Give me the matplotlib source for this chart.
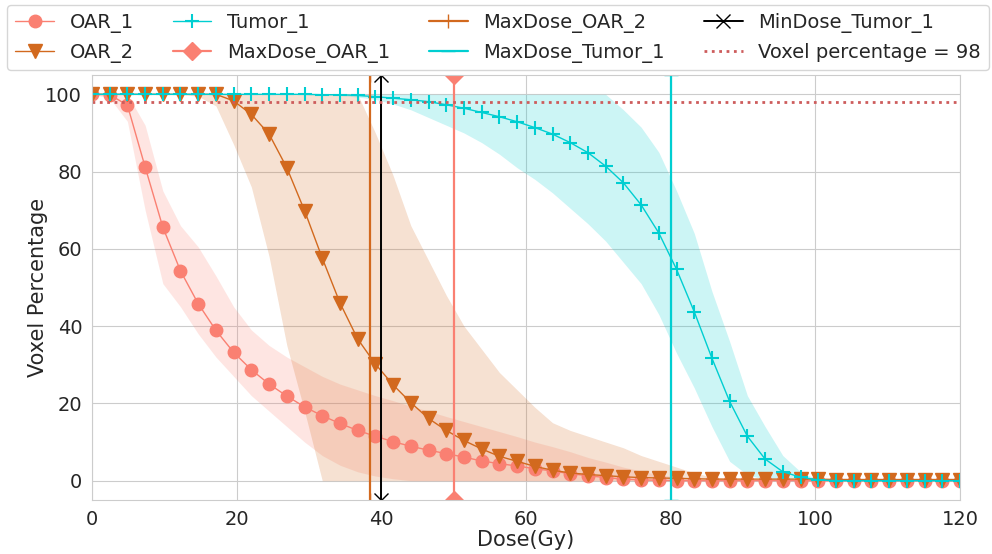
import numpy as np
import matplotlib
matplotlib.use('Agg')
import matplotlib.pyplot as plt
import seaborn as sns

sns.set_style('whitegrid')
plt.rcParams['font.family'] = ['DejaVu Sans']

# dose grid (Gy)
dose = [0, 2.45, 4.9, 7.35, 9.8, 12.24, 14.69, 17.14, 19.59, 22.04,
        24.49, 26.94, 29.39, 31.84, 34.29, 36.73, 39.18, 41.63, 44.08, 46.53,
        48.98, 51.43, 53.88, 56.33, 58.78, 61.22, 63.67, 66.12, 68.57, 71.02,
        73.47, 75.92, 78.37, 80.82, 83.27, 85.71, 88.16, 90.61, 93.06, 95.51,
        97.96, 100.41, 102.86, 105.31, 107.76, 110.2, 112.65, 115.1, 117.55, 120]

oar1_mean = [100, 99.9, 97.2, 81.2, 65.6, 54.3, 45.8, 38.9, 33.2, 28.7,
             25.0, 21.9, 19.1, 16.8, 14.8, 13.0, 11.5, 10.1, 8.9, 7.9,
             7.0, 6.1, 5.1, 4.4, 3.8, 3.1, 2.5, 1.8, 1.3, 0.8,
             0.4, 0.2, 0.1] + [0] * 17
oar1_low = [100, 99, 93, 70, 51, 45, 38, 32, 27, 22,
            18, 14, 10, 6.5, 4, 2.3, 1.2, 0.5] + [0] * 32
oar1_up = [100, 100, 100, 92, 75, 66, 60.5, 53, 45, 39,
           35, 32, 29.5, 27, 25, 23.5, 22, 20.7, 19.3, 18,
           16.6, 15.3, 14, 12.7, 11.4, 10, 8.8, 7.5, 6, 4.8,
           3.5, 2.5, 1.5, 1.0, 0.5] + [0] * 15

oar2_mean = [100] * 8 + [98.3, 94.8, 89.7, 81.0, 69.9, 57.6, 46.0, 36.7, 30.2, 24.8,
                         20.2, 16.1, 13.0, 10.4, 8.2, 6.3, 5.0, 3.7, 2.7, 2.0,
                         1.6, 1.3, 1.0, 0.8, 0.7, 0.6, 0.5] + [0.4] * 7 + [0.3] * 8
oar2_low = [100] * 6 + [99.5, 97, 87, 76, 58, 35, 18] + [0] * 37
oar2_up = [100] * 16 + [90, 79, 66, 57, 48, 40, 34, 28, 23.5, 19,
                        15, 13, 11.5, 10, 8.5, 6.5, 5, 3.5, 2, 1, 0.5] + [0] * 13

tumor_mean = [100] * 13 + [99.9, 99.9, 99.7, 99.4, 99.0, 98.6, 98.1, 97.3, 96.4, 95.3,
                           94.2, 92.9, 91.4, 89.7, 87.5, 84.9, 81.4, 77.1, 71.4, 64.1,
                           54.7, 43.7, 31.7, 20.5, 11.5, 5.6, 2.3, 0.9, 0.2] + [0] * 8
tumor_low = [100] * 13 + [99.9, 99.7, 99.3, 98.7, 97.5, 96, 94, 92, 90, 87.5,
                          84.5, 81, 78, 74.5, 70.5, 66.5, 62, 56.5, 51, 43,
                          33, 24, 14, 5, 1.5, 0.3] + [0] * 11
tumor_up = [100] * 30 + [96, 91.5, 85, 75, 64, 49, 36, 22, 14, 6.5, 2.3, 0.2] + [0] * 8

max_dose_oar1 = 50
max_dose_oar2 = 38.4
max_dose_tumor1 = 80
min_dose_tumor1 = 40
voxel_pct = 98

fig = plt.figure(figsize=(9.92, 5.54), dpi=100)
ax = fig.add_axes([0.0927, 0.0975, 0.875, 0.7671])

ymin, ymax = -5, 105

ax.fill_between(dose, oar1_low, oar1_up, color='salmon', alpha=0.2, lw=0)
ax.plot(dose, oar1_mean, color='salmon', marker='o', ms=9, lw=1, label='OAR_1')
ax.fill_between(dose, oar2_low, oar2_up, color='chocolate', alpha=0.2, lw=0)
ax.plot(dose, oar2_mean, color='chocolate', marker='v', ms=9.5, lw=1, label='OAR_2')
ax.fill_between(dose, tumor_low, tumor_up, color='darkturquoise', alpha=0.2, lw=0)
ax.plot(dose, tumor_mean, color='darkturquoise', marker='+', ms=9.5, mew=1.5, lw=1,
        label='Tumor_1')

ax.plot([max_dose_oar1] * 2, [ymin, ymax], color='salmon', marker='D', ms=9.5, lw=1.6,
        label='MaxDose_OAR_1')
ax.plot([max_dose_oar2] * 2, [ymin, ymax], color='chocolate', marker='|', ms=10, lw=1.6,
        label='MaxDose_OAR_2')
ax.plot([max_dose_tumor1] * 2, [ymin, ymax], color='darkturquoise', marker='_', ms=10, lw=1.6,
        label='MaxDose_Tumor_1')
ax.plot([min_dose_tumor1] * 2, [ymin, ymax], color='black', marker='x', ms=10, lw=1.4,
        label='MinDose_Tumor_1')
ax.axhline(voxel_pct, color='indianred', ls=':', lw=2,
           label='Voxel percentage = {}'.format(voxel_pct))

ax.set_xlim(0, 120)
ax.set_ylim(ymin, ymax)
ax.set_xticks([0, 20, 40, 60, 80, 100, 120])
ax.set_yticks([0, 20, 40, 60, 80, 100])
ax.tick_params(labelsize=14)
ax.set_xlabel('Dose(Gy)', fontsize=15, labelpad=1)
ax.set_ylabel('Voxel Percentage', fontsize=15, labelpad=-2)

fig.legend(loc='upper center', bbox_to_anchor=(0.502, 1 - 5 / 554), ncol=4,
           fontsize=14, borderaxespad=0)

fig.savefig('out.png', dpi=100)
